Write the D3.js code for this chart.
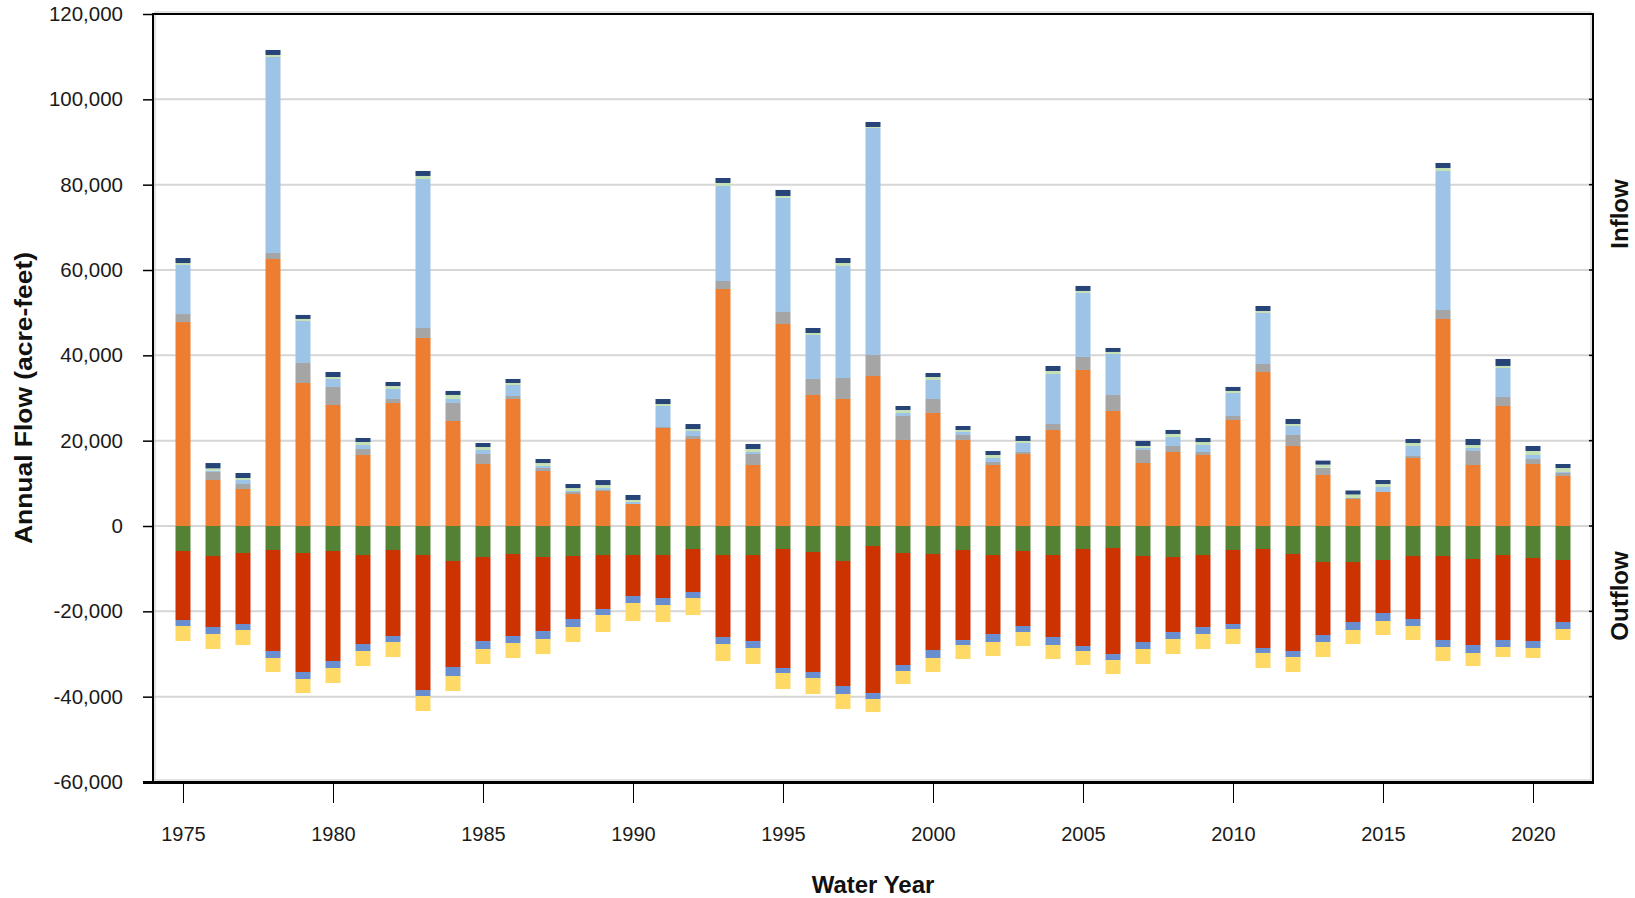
<!DOCTYPE html>
<html lang="en">
<head>
  <meta charset="utf-8">
  <title>Annual Flow by Water Year</title>
  <style>
    body {
      margin: 0;
      background: #fff;
    }

    svg {
      display: block;
      font-family: "Liberation Sans", Arial, sans-serif;
    }

    .axis text {
      font-size: 20px;
      fill: #1a1a1a;
    }

    .axis.y text {
      font-size: 20.5px;
    }

    .axis line {
      stroke: #000;
    }

    .title {
      font-size: 24px;
      font-weight: bold;
      fill: #111;
    }

    .grid line {
      stroke: #d6d6d6;
      stroke-width: 2px;
    }
  </style>
</head>
<body>
  <svg id="chart" width="1635" height="898"></svg>
  <script src="https://cdn.jsdelivr.net/npm/d3@7"></script>
  <script>
    // water years
    const years = [1975, 1976, 1977, 1978, 1979, 1980, 1981, 1982, 1983, 1984,
      1985, 1986, 1987, 1988, 1989, 1990, 1991, 1992, 1993, 1994,
      1995, 1996, 1997, 1998, 1999, 2000, 2001, 2002, 2003, 2004,
      2005, 2006, 2007, 2008, 2009, 2010, 2011, 2012, 2013, 2014,
      2015, 2016, 2017, 2018, 2019, 2020, 2021];

    // inflow components, bottom to top (acre-feet)
    const inflowOrange = [47800, 10780, 8670, 62580, 33520, 28360, 16640, 28830, 44070, 24610,
      14530, 29770, 12890, 7500, 8200, 5160, 22970, 20390, 55550, 14300,
      47350, 30710, 29770, 35160, 20160, 26490, 20160, 14300, 16880, 22500,
      36570, 26960, 14770, 17350, 16640, 24850, 36100, 18750, 11950, 6330,
      7970, 15940, 48520, 14300, 28130, 14530, 11720];
    const inflowGray = [1875, 1875, 1170, 1410, 4690, 4220, 1410, 940, 2340, 4220,
      2340, 700, 700, 470, 230, 0, 230, 700, 1875, 2580,
      2810, 3750, 4920, 4920, 5625, 3280, 1170, 700, 470, 1410,
      3050, 3750, 3050, 1410, 700, 940, 1875, 2580, 1640, 230,
      0, 470, 2110, 3280, 2110, 1170, 700];
    const inflowLightBlue = [11490, 300, 940, 45940, 9845, 1875, 940, 2340, 34930, 940,
      940, 2580, 470, 230, 470, 470, 4920, 1170, 22270, 470,
      26720, 10310, 26250, 53210, 700, 4450, 700, 940, 2110, 11720,
      15000, 9610, 470, 2110, 1640, 5390, 11950, 2110, 100, 0,
      1170, 2340, 32580, 700, 6800, 940, 230];
    const inflowLightGreen = [470, 550, 470, 470, 470, 470, 700, 700, 700, 940,
      700, 470, 700, 700, 700, 470, 470, 470, 700, 700,
      470, 470, 700, 230, 700, 700, 470, 700, 470, 700,
      470, 470, 470, 700, 700, 470, 470, 470, 700, 820,
      700, 700, 700, 700, 470, 940, 940];
    const inflowNavy = [1170, 1250, 1170, 1170, 940, 1170, 940, 940, 1170, 940,
      940, 940, 940, 940, 1170, 1170, 1170, 1170, 1170, 1170,
      1410, 1170, 1170, 1170, 940, 940, 940, 940, 1170, 1170,
      1170, 940, 1170, 940, 940, 940, 1170, 1170, 940, 940,
      940, 940, 1170, 1410, 1640, 1170, 940];

    // outflow components, top to bottom (acre-feet, magnitudes)
    const outflowGreen = [5860, 7030, 6330, 5625, 6330, 5860, 6800, 5625, 6800, 8200,
      7270, 6560, 7270, 7030, 6800, 6800, 6800, 5390, 6800, 6800,
      5390, 6090, 8200, 4690, 6330, 6560, 5625, 6800, 5860, 6800,
      5390, 5160, 7030, 7270, 6800, 5625, 5390, 6560, 8440, 8440,
      7970, 7030, 7030, 7735, 6800, 7500, 7970];
    const outflowRed = [16170, 16640, 16640, 23670, 27890, 25780, 20860, 20160, 31640, 24850,
      19690, 19220, 17350, 14770, 12660, 9610, 10080, 10080, 19220, 20160,
      27890, 28130, 29300, 34460, 26250, 22500, 21100, 18520, 17580, 19220,
      22740, 24850, 20160, 17580, 16880, 17350, 23200, 22740, 17110, 14060,
      12420, 14770, 19690, 20160, 19920, 19450, 14530];
    const outflowBlue = [1410, 1640, 1410, 1640, 1640, 1640, 1640, 1410, 1410, 2110,
      1875, 1640, 1875, 1875, 1410, 1640, 1640, 1410, 1640, 1640,
      1170, 1410, 1875, 1410, 1410, 1875, 1170, 1875, 1410, 1875,
      1170, 1410, 1640, 1640, 1640, 1170, 1170, 1410, 1640, 1875,
      1875, 1640, 1640, 1875, 1640, 1640, 1640];
    const outflowYellow = [3520, 3520, 3520, 3280, 3280, 3520, 3520, 3520, 3520, 3520,
      3520, 3520, 3520, 3520, 3985, 4220, 3985, 3985, 3985, 3750,
      3750, 3750, 3520, 3050, 3050, 3280, 3280, 3280, 3280, 3280,
      3280, 3280, 3520, 3520, 3520, 3520, 3520, 3520, 3520, 3280,
      3280, 3280, 3280, 3050, 2340, 2340, 2580];

    const yTicks = [-60000, -40000, -20000, 0, 20000, 40000, 60000, 80000, 100000, 120000];
    const xTicks = [1975, 1980, 1985, 1990, 1995, 2000, 2005, 2010, 2015, 2020];

    const series = [
      { key: "inOrange", values: inflowOrange, sign: 1, color: "#ED7D31" },
      { key: "inGray", values: inflowGray, sign: 1, color: "#A5A5A5" },
      { key: "inLightBlue", values: inflowLightBlue, sign: 1, color: "#9DC3E6" },
      { key: "inLightGreen", values: inflowLightGreen, sign: 1, color: "#C5E0B4" },
      { key: "inNavy", values: inflowNavy, sign: 1, color: "#264478" },
      { key: "outGreen", values: outflowGreen, sign: -1, color: "#548235" },
      { key: "outRed", values: outflowRed, sign: -1, color: "#CC3300" },
      { key: "outBlue", values: outflowBlue, sign: -1, color: "#698ED0" },
      { key: "outYellow", values: outflowYellow, sign: -1, color: "#FFD966" }
    ];

    const table = years.map((yr, i) => {
      const row = { year: yr };
      series.forEach(s => { row[s.key] = s.sign * s.values[i]; });
      return row;
    });

    const svg = d3.select("#chart");
    const LEFT = 153, RIGHT = 1593, TOP = 14, BOTTOM = 782;
    const BAR_W = 15;

    const x = d3.scaleLinear().domain([1974, 2022]).range([LEFT, RIGHT]);
    const y = d3.scaleLinear().domain([-60000, 120000]).range([BOTTOM, TOP]);

    // gridlines
    svg.append("g")
      .attr("class", "grid")
      .selectAll("line")
      .data(yTicks.slice(1, -1))
      .enter()
      .append("line")
      .attr("x1", LEFT)
      .attr("x2", RIGHT)
      .attr("y1", d => y(d))
      .attr("y2", d => y(d));

    // stacked bars
    const stacked = d3.stack()
      .keys(series.map(s => s.key))
      .offset(d3.stackOffsetDiverging)(table);

    svg.append("g")
      .selectAll("g")
      .data(stacked)
      .enter()
      .append("g")
      .attr("fill", (d, i) => series[i].color)
      .selectAll("rect")
      .data(d => d)
      .enter()
      .append("rect")
      .attr("x", d => x(d.data.year) - BAR_W / 2)
      .attr("width", BAR_W)
      .attr("y", d => y(Math.max(d[0], d[1])))
      .attr("height", d => Math.abs(y(d[0]) - y(d[1])));

    // plot frame with a soft shadow
    const frame = svg.append("g");
    frame.append("rect")
      .attr("x", LEFT + 2).attr("y", TOP - 2)
      .attr("width", RIGHT - LEFT - 4).attr("height", BOTTOM - TOP)
      .attr("fill", "none").attr("stroke", "#c8c8c8").attr("stroke-width", 1);
    frame.append("rect")
      .attr("x", LEFT).attr("y", TOP)
      .attr("width", RIGHT - LEFT).attr("height", BOTTOM - TOP)
      .attr("fill", "none").attr("stroke", "#000").attr("stroke-width", 2);
    frame.append("line")
      .attr("x1", LEFT - 10).attr("x2", RIGHT + 1)
      .attr("y1", BOTTOM + 0.5).attr("y2", BOTTOM + 0.5)
      .attr("stroke", "#000").attr("stroke-width", 3);

    // y axis
    const yAxis = svg.append("g")
      .attr("class", "axis y")
      .attr("transform", "translate(" + LEFT + ",0)")
      .call(d3.axisLeft(y)
        .tickValues(yTicks)
        .tickSize(10)
        .tickPadding(20)
        .tickFormat(d => d.toLocaleString("en-US")));
    yAxis.select(".domain").remove();
    yAxis.selectAll("line").attr("stroke-width", 1.5);

    // small inward ticks on the right edge
    svg.append("g")
      .selectAll("line")
      .data(yTicks)
      .enter()
      .append("line")
      .attr("x1", RIGHT - 4)
      .attr("x2", RIGHT)
      .attr("y1", d => y(d))
      .attr("y2", d => y(d))
      .attr("stroke", "#000")
      .attr("stroke-width", 1.5);

    // x axis
    const xAxis = svg.append("g")
      .attr("class", "axis")
      .attr("transform", "translate(0," + BOTTOM + ")")
      .call(d3.axisBottom(x)
        .tickValues(xTicks)
        .tickSize(21)
        .tickPadding(24)
        .tickFormat(d3.format("d")));
    xAxis.select(".domain").remove();

    // titles
    svg.append("text")
      .attr("class", "title")
      .attr("x", (LEFT + RIGHT) / 2)
      .attr("y", 893)
      .attr("text-anchor", "middle")
      .text("Water Year");

    svg.append("text")
      .attr("class", "title")
      .attr("transform", "translate(32," + (TOP + BOTTOM) / 2 + ") rotate(-90)")
      .attr("text-anchor", "middle")
      .attr("textLength", 292)
      .attr("lengthAdjust", "spacingAndGlyphs")
      .text("Annual Flow (acre-feet)");

    svg.append("text")
      .attr("class", "title")
      .attr("transform", "translate(1628,214) rotate(-90)")
      .attr("text-anchor", "middle")
      .text("Inflow");

    svg.append("text")
      .attr("class", "title")
      .attr("transform", "translate(1628,596) rotate(-90)")
      .attr("text-anchor", "middle")
      .text("Outflow");
  </script>
</body>
</html>
